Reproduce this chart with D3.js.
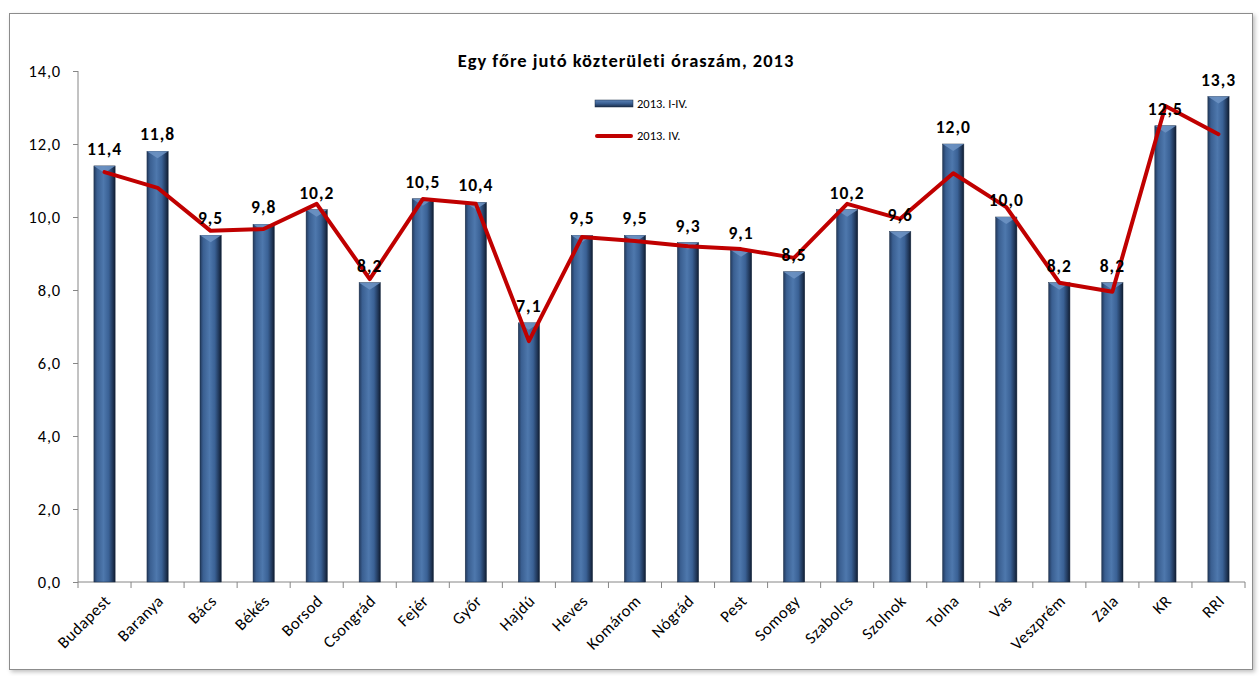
<!DOCTYPE html>
<html>
<head>
<meta charset="utf-8">
<script src="https://cdn.jsdelivr.net/npm/d3@7"></script>
<style>
  body { margin: 0; background: #fff; }
  text { font-family: Carlito, Calibri, Lato, "Open Sans", sans-serif; }
</style>
</head>
<body>
<svg id="chart" width="1259" height="676"></svg>
<script>
// county names (x axis)
const categories = ["Budapest", "Baranya", "Bács", "Békés", "Borsod", "Csongrád", "Fejér", "Győr",
  "Hajdú", "Heves", "Komárom", "Nógrád", "Pest", "Somogy", "Szabolcs", "Szolnok", "Tolna", "Vas",
  "Veszprém", "Zala", "KR", "RRI"];
// bars: 2013. I-IV.
const barValues = [11.4, 11.8, 9.5, 9.8, 10.2, 8.2, 10.5, 10.4, 7.1, 9.5, 9.5, 9.3, 9.1, 8.5,
  10.2, 9.6, 12.0, 10.0, 8.2, 8.2, 12.5, 13.3];
// line: 2013. IV.
const lineValues = [11.23, 10.8, 9.62, 9.67, 10.36, 8.3, 10.49, 10.36, 6.6, 9.45, 9.34, 9.2, 9.12,
  8.88, 10.36, 9.95, 11.2, 10.27, 8.2, 7.95, 13.04, 12.27];
const yTicks = [0, 2, 4, 6, 8, 10, 12, 14];
const seriesNames = ["2013. I-IV.", "2013. IV."];
const title = "Egy főre jutó közterületi óraszám, 2013";

const svg = d3.select("#chart");
const fmt = v => d3.format(".1f")(v).replace(".", ",");

// chart frame with a soft shadow
const defs = svg.append("defs");
const shadow = defs.append("filter").attr("id", "shadow")
    .attr("x", "-2%").attr("y", "-2%").attr("width", "104%").attr("height", "104%");
shadow.append("feDropShadow").attr("dx", 2).attr("dy", 2).attr("stdDeviation", 2)
    .attr("flood-color", "#000").attr("flood-opacity", 0.25);
svg.append("rect").attr("x", 9.5).attr("y", 13.5).attr("width", 1243).attr("height", 656)
    .attr("fill", "#fff").attr("stroke", "#8c8c8c").attr("stroke-width", 1)
    .attr("filter", "url(#shadow)");

// bar gradient (cylinder-ish look)
const grad = defs.append("linearGradient").attr("id", "barGrad")
    .attr("x1", "0%").attr("x2", "100%").attr("y1", "0%").attr("y2", "0%");
[["0%", "#22395c"], ["15%", "#3a5f91"], ["45%", "#4e78ad"], ["70%", "#3a6195"], ["90%", "#1f3556"], ["100%", "#0f1c30"]]
  .forEach(s => grad.append("stop").attr("offset", s[0]).attr("stop-color", s[1]));
const legGrad = defs.append("linearGradient").attr("id", "legGrad")
    .attr("x1", "0%").attr("x2", "0%").attr("y1", "0%").attr("y2", "100%");
[["0%", "#5d84b8"], ["50%", "#3a5f91"], ["100%", "#1a2d4a"]]
  .forEach(s => legGrad.append("stop").attr("offset", s[0]).attr("stop-color", s[1]));

const plotL = 78, plotR = 1245, plotT = 71, plotB = 582;

const x = d3.scaleBand().domain(categories).range([plotL, plotR]).paddingInner(0.6).paddingOuter(0.3);
const xStep = d3.scaleBand().domain(categories).range([plotL, plotR]);
const y = d3.scaleLinear().domain([0, 14]).range([plotB, plotT]);

// y axis
const yAxis = svg.append("g").attr("transform", `translate(${plotL},0)`)
    .call(d3.axisLeft(y).tickValues(yTicks).tickFormat(fmt).tickSize(5).tickPadding(12));
yAxis.select(".domain").attr("stroke", "#868686").attr("d", `M0,${plotT}V${plotB}`);
yAxis.selectAll(".tick line").attr("stroke", "#868686");
yAxis.selectAll(".tick text").attr("font-size", 16.5).attr("letter-spacing", 0.8)
    .attr("fill", "#000").attr("font-family", null);

// x axis
const xAxis = svg.append("g").attr("transform", `translate(0,${plotB})`);
xAxis.append("line").attr("x1", plotL).attr("x2", plotR).attr("stroke", "#868686");
xAxis.selectAll(".xt").data(categories.concat(["_end"]))
  .join("line").attr("class", "xt")
  .attr("x1", (d, i) => plotL + i * xStep.step()).attr("x2", (d, i) => plotL + i * xStep.step())
  .attr("y1", 0).attr("y2", 6).attr("stroke", "#868686");
xAxis.selectAll(".xl").data(categories).join("text").attr("class", "xl")
  .attr("transform", d => `translate(${xStep(d) + xStep.bandwidth() / 2 + 7},${20}) rotate(-45)`)
  .attr("text-anchor", "end").attr("font-size", 16.5).attr("letter-spacing", 0.5).attr("fill", "#000")
  .text(d => d);

// bars
const bars = svg.append("g");
bars.selectAll("rect").data(barValues).join("rect")
  .attr("x", (d, i) => x(categories[i])).attr("width", x.bandwidth())
  .attr("y", d => y(d)).attr("height", d => plotB - y(d))
  .attr("fill", "url(#barGrad)").attr("stroke", "#1b2c45").attr("stroke-width", 0.5);
// bevel on bar tops
bars.selectAll("path").data(barValues).join("path")
  .attr("d", (d, i) => {
    const x0 = x(categories[i]), w = x.bandwidth(), yt = y(d);
    return `M${x0},${yt}L${x0 + w},${yt}L${x0 + w / 2},${yt + 7}Z`;
  })
  .attr("fill", "#6f94c4").attr("opacity", 0.85);

// line series
const line = d3.line()
  .x((d, i) => x(categories[i]) + x.bandwidth() / 2)
  .y(d => y(d));
svg.append("path").datum(lineValues).attr("d", line)
  .attr("fill", "none").attr("stroke", "#c00000").attr("stroke-width", 4)
  .attr("stroke-linejoin", "round").attr("stroke-linecap", "round");

// data labels
svg.append("g").selectAll("text").data(barValues).join("text")
  .attr("x", (d, i) => x(categories[i]) + x.bandwidth() / 2)
  .attr("y", d => y(d) - 11)
  .attr("text-anchor", "middle").attr("font-size", 17.5).attr("font-weight", "bold")
  .attr("letter-spacing", 1).attr("fill", "#000").text(fmt);

// title
svg.append("text").attr("x", 626).attr("y", 67).attr("text-anchor", "middle")
  .attr("font-size", 18.5).attr("font-weight", "bold").attr("letter-spacing", 1)
  .text(title);

// legend
const leg = svg.append("g").attr("transform", "translate(595,0)");
leg.append("rect").attr("x", 0).attr("y", 100).attr("width", 38).attr("height", 7)
  .attr("fill", "url(#legGrad)").attr("stroke", "#1b2c45").attr("stroke-width", 0.5);
leg.append("line").attr("x1", 2).attr("x2", 36).attr("y1", 136).attr("y2", 136)
  .attr("stroke", "#c00000").attr("stroke-width", 4).attr("stroke-linecap", "round");
leg.selectAll("text").data(seriesNames).join("text")
  .attr("x", 42).attr("y", (d, i) => 108 + i * 32)
  .attr("font-size", 12.5).attr("fill", "#000").text(d => d);
</script>
</body>
</html>
